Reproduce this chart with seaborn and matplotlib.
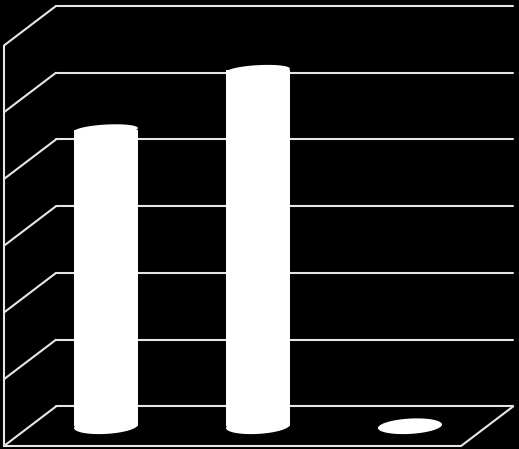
import numpy as np
import pandas as pd
import matplotlib
matplotlib.use("Agg")
import matplotlib.pyplot as plt
import seaborn as snb

# no labels in the picture, so the categories just get placeholder names
categories = ["A", "B", "C"]
values = [4.44, 5.33, 0.0]
gridlevels = [0, 1, 2, 3, 4, 5, 6]

linecolor = "#e6e6e6"
depth_x = 0.342   # how far the floor comes forward, in category units
depth_y = 0.592   # same thing in value units
back_left = -0.329
back_right = 2.678
bar_width = 0.42
base = -depth_y / 2

snb.set_theme(style="dark")
fgr = plt.figure(figsize=(5.19, 4.49), dpi=100, facecolor="black")
ax = fgr.add_axes([0, 0, 1, 1])

data = pd.DataFrame({"category": categories, "value": values})
snb.barplot(data=data, x="category", y="value", color="white", saturation=1,
            width=bar_width, linewidth=0, bottom=base, zorder=3, ax=ax)

# back wall and side wall lines
for g in gridlevels:
    ax.plot([back_left, back_right], [g, g], color=linecolor, lw=1.5, zorder=1)
    ax.plot([back_left - depth_x, back_left], [g - depth_y, g], color=linecolor, lw=1.5, zorder=1)

# floor + left edge
front_left = back_left - depth_x
front_right = back_right - depth_x
ax.plot([front_left, front_right, back_right], [-depth_y, -depth_y, 0], color=linecolor, lw=1.5, zorder=1)
ax.plot([front_left, front_left], [-depth_y, gridlevels[-1] - depth_y], color=linecolor, lw=1.5, zorder=1)

# cylinder ends, slightly tilted ellipses. top ones look flatter in the picture
t = np.linspace(0, 2 * np.pi, 200)
for i, v in enumerate(values):
    for level, half in [(base, 0.115), (base + v, 0.08)]:
        ex = i + bar_width / 2 * np.cos(t)
        ey = level + half * np.sin(t) + 0.026 * np.cos(t)
        ax.fill(ex, ey, color="white", lw=0, zorder=4)

ax.set_xlim(-0.697, 2.717)
ax.set_ylim(-0.637, 6.09)
ax.set_axis_off()
fgr.savefig("out.png", dpi=100, facecolor="black")
